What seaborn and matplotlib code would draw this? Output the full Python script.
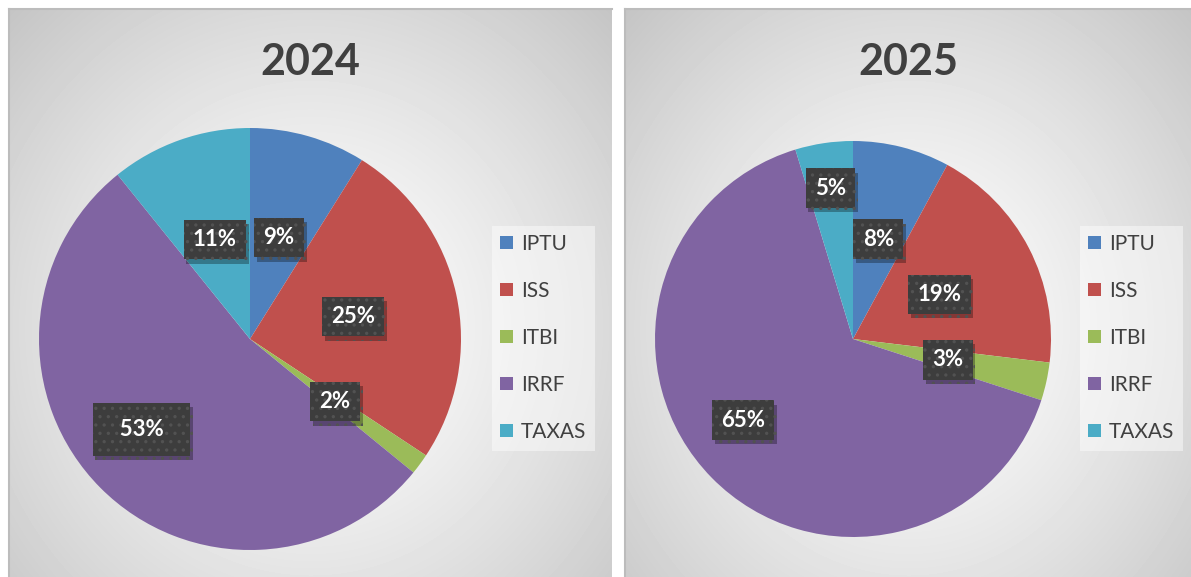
import numpy as np
import matplotlib
matplotlib.use('Agg')
import matplotlib.pyplot as plt
from matplotlib.patches import Patch
import matplotlib.patheffects as pe
import seaborn as sns

# ---- data ----
categories = ['IPTU', 'ISS', 'ITBI', 'IRRF', 'TAXAS']
values_2024 = [8.9, 25.4, 1.6, 53.3, 10.8]
values_2025 = [7.9, 19.0, 3.1, 65.3, 4.7]
years = ['2024', '2025']

sns.set_theme(style='white')
plt.rcParams['font.family'] = ['Lato', 'DejaVu Sans']
plt.rcParams['hatch.linewidth'] = 1.2
palette = sns.color_palette(['#4f81bd', '#c0504d', '#9bbb59', '#8064a2', '#4bacc6'])

W, H = 1191, 577
fig = plt.figure(figsize=(W / 100, H / 100), dpi=100, facecolor='white')


def px_axes(x0, y0, x1, y1, z=0):
    return fig.add_axes([x0 / W, 1 - y1 / H, (x1 - x0) / W, (y1 - y0) / H], zorder=z)


panels = [(9, 9, 612, 578), (625, 9, 1192, 578)]
pies = [((250, 339), 211), ((853, 339), 198)]
legend_left = [492, 1080]
label_dist = [[0.5, 0.5, 0.5, 0.67, 0.5], [0.52, 0.49, 0.49, 0.69, 0.77]]
label_turn = [[0, 0, 0, -5, 0], [0, 0, 0, -8, 0]]
text_col = '#404040'

for i, vals in enumerate([values_2024, values_2025]):
    x0, y0, x1, y1 = panels[i]
    bg = px_axes(x0, y0, x1, y1, z=0)
    w, h = x1 - x0, y1 - y0
    yy, xx = np.mgrid[0:h, 0:w]
    r = np.sqrt(((xx - w * 0.5) / (w * 0.5)) ** 2 + ((yy - h * 0.56) / (h * 0.56)) ** 2) / np.sqrt(2)
    g = np.clip(1.0 - 0.23 * r ** 1.3, 0, 1)
    bg.imshow(g, cmap='gray', vmin=0, vmax=1, aspect='auto', extent=(0, w, h, 0),
              interpolation='bilinear')
    bg.set_xticks([]); bg.set_yticks([])
    for s in ['right', 'bottom']:
        bg.spines[s].set_visible(False)
    for s in ['left', 'top']:
        bg.spines[s].set_color('#bcbcbc')
        bg.spines[s].set_linewidth(1.5)

    (cx, cy), rad = pies[i]
    ax = px_axes(cx - rad, cy - rad, cx + rad, cy + rad, z=2)
    ax.patch.set_alpha(0)
    wedges, _ = ax.pie(vals, colors=palette, startangle=90, counterclock=False,
                       radius=1, wedgeprops=dict(linewidth=0))
    ax.set_xlim(-1, 1); ax.set_ylim(-1, 1)
    ax.set_aspect('equal')
    ax.axis('off')

    for k, (wd, v) in enumerate(zip(wedges, vals)):
        th = np.deg2rad((wd.theta1 + wd.theta2) / 2 + label_turn[i][k])
        d = label_dist[i][k]
        x, y = d * np.cos(th), d * np.sin(th)
        big = (i == 0 and k == 3)
        txt = f"{round(v)}%"
        style = 'square,pad=0.42' if not big else 'square,pad=0.72'
        t = ax.text(x, y, txt, ha='center', va='center', fontsize=16, fontweight='bold',
                    color='white', zorder=5,
                    bbox=dict(boxstyle=style, fc='#3d3d3d', ec='#525252',
                              linewidth=0, hatch='..'))
        if big:
            t.set_text('  ' + txt + '  ')
        t.get_bbox_patch().set_path_effects(
            [pe.SimplePatchShadow(offset=(2, -3), alpha=0.3, shadow_rgbFace='black'), pe.Normal()])

    fig.text((x0 + x1) / 2 / W, 1 - 62 / H, years[i], ha='center', va='center',
             fontsize=31, fontweight='bold', color=text_col)

    handles = [Patch(facecolor=c, edgecolor='none') for c in palette]
    leg = fig.legend(handles=handles, labels=categories, loc='center left',
                     bbox_to_anchor=(legend_left[i] / W, 1 - 338 / H), borderaxespad=0,
                     frameon=True, facecolor='white', framealpha=0.45, edgecolor='none',
                     fancybox=False, fontsize=15, handlelength=0.6, handleheight=0.6,
                     labelspacing=1.3, handletextpad=0.4, borderpad=0.4,
                     labelcolor=text_col)
    leg.set_zorder(3)

fig.savefig('out.png', dpi=100, facecolor='white')
